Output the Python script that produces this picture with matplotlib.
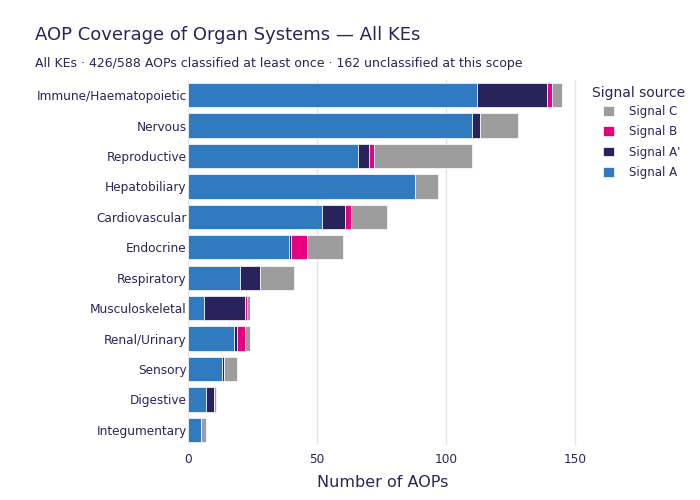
import matplotlib
matplotlib.use("Agg")
import matplotlib.pyplot as plt
import numpy as np

# organ systems, top to bottom
systems = ["Immune/Haematopoietic", "Nervous", "Reproductive", "Hepatobiliary",
           "Cardiovascular", "Endocrine", "Respiratory", "Musculoskeletal",
           "Renal/Urinary", "Sensory", "Digestive", "Integumentary"]

signal_a = [112, 110, 66, 88, 52, 39, 20, 6, 18, 13, 7, 5]
signal_a2 = [27, 3, 4, 0, 9, 1, 8, 16, 1, 1, 3, 0]
signal_b = [2, 0, 2, 0, 2, 6, 0, 1, 3, 0, 0, 0]
signal_c = [4, 15, 38, 9, 14, 14, 13, 1, 2, 5, 1, 2]

series = [("Signal A", signal_a, "#307bbf"),
          ("Signal A'", signal_a2, "#29235c"),
          ("Signal B", signal_b, "#e6007e"),
          ("Signal C", signal_c, "#9d9d9d")]

text_col = "#2a2557"

fig = plt.figure(figsize=(7, 5), dpi=100)
ax = fig.add_axes([0.2686, 0.11, 0.556, 0.73])

y = np.arange(len(systems))
left = np.zeros(len(systems))
handles = []
for name, vals, col in series:
    vals = np.array(vals, dtype=float)
    b = ax.barh(y, vals, left=left, height=0.8, color=col,
                edgecolor="white", linewidth=0.5, label=name, zorder=3)
    handles.append(b)
    left += vals

ax.set_ylim(11.5, -0.5)
ax.set_xlim(0, 150.8)
ax.set_yticks(y)
ax.set_yticklabels(systems)
ax.set_xticks([0, 50, 100, 150])
ax.tick_params(axis="both", length=0, labelsize=8.7, colors=text_col)
ax.tick_params(axis="y", pad=1)
ax.tick_params(axis="x", pad=6)
ax.grid(axis="x", color="#e5e5e5", linewidth=1, zorder=0)
for s in ax.spines.values():
    s.set_visible(False)
ax.set_xlabel("Number of AOPs", fontsize=11.5, color=text_col, labelpad=6)

fig.text(0.05, 0.93, "AOP Coverage of Organ Systems \u2014 All KEs",
         fontsize=13, color=text_col, ha="left", va="center")
fig.text(0.05, 0.874,
         "All KEs \u00b7 426/588 AOPs classified at least once \u00b7 162 unclassified at this scope",
         fontsize=9, color=text_col, ha="left", va="center")

# legend title sits left of the indented entries, like plotly
fig.text(0.846, 0.813, "Signal source", fontsize=10, color=text_col,
         ha="left", va="center")
leg = fig.legend(handles[::-1], [h.get_label() for h in handles[::-1]],
                 loc="upper left", bbox_to_anchor=(0.862, 0.79),
                 frameon=False, fontsize=8.5, handlelength=0.9,
                 handleheight=0.9, handletextpad=1.27, labelspacing=0.62,
                 borderpad=0, borderaxespad=0)
for t in leg.get_texts():
    t.set_color(text_col)

fig.savefig("out.png", dpi=100)
